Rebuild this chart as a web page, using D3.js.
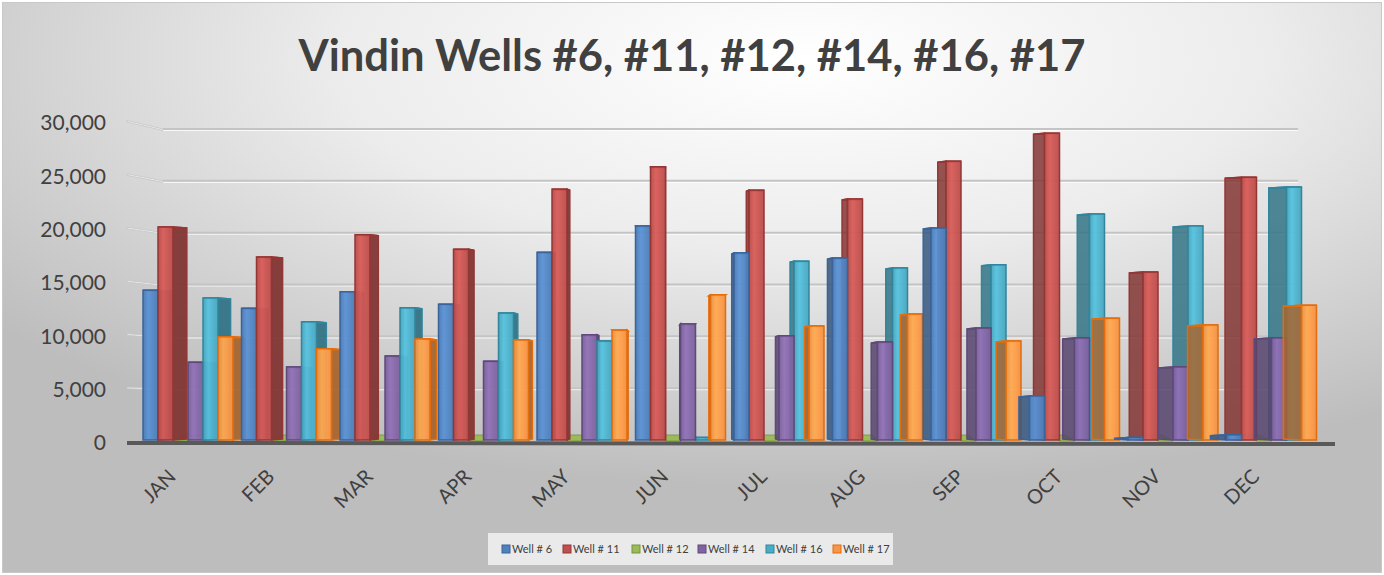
<!DOCTYPE html>
<html><head><meta charset="utf-8">
<script src="https://cdn.jsdelivr.net/npm/d3@7"></script>
<style>html,body{margin:0;padding:0;background:#fff;}svg{display:block;}</style>
</head><body>
<svg id="chart" width="1384" height="575"></svg>
<script>
const months = ["JAN","FEB","MAR","APR","MAY","JUN","JUL","AUG","SEP","OCT","NOV","DEC"];
const seriesNames = ["Well # 6","Well # 11","Well # 12","Well # 14","Well # 16","Well # 17"];
const well6  = [14450,12700,14300,13100,18100,20650,18050,17550,20450,4250,250,500];
const well11 = [20550,17650,19800,18400,24200,26350,24100,23250,26900,29600,16200,25350];
const well12 = [0,0,0,0,0,0,0,0,0,0,0,0];
const well14 = [7500,7050,8100,7600,10150,11200,10050,9450,10800,9850,7050,9850];
const well16 = [13700,11400,12750,12250,9550,250,17250,16600,16900,21800,20650,24400];
const well17 = [9950,8800,9750,9650,10600,14000,11000,12150,9550,11750,11100,13000];
const yTicks = [0,5000,10000,15000,20000,25000,30000];
const colors = ["#4f81bd","#c0504d","#9bbb59","#8064a2","#4bacc6","#f79646"];
const strokes = ["#3a639a","#943634","#76923c","#5f497a","#31859c","#e46c0a"];
const titleText = "Vindin Wells #6, #11, #12, #14, #16, #17";

const seriesData = [well6, well11, well12, well14, well16, well17];
const W = 1384, H = 575;
const svg = d3.select("#chart");
const defs = svg.append("defs");

// background
const rg = defs.append("radialGradient").attr("id","bg")
  .attr("cx","0.58").attr("cy","0.1").attr("r","0.75").attr("fx","0.58").attr("fy","0.1");
rg.append("stop").attr("offset","0").attr("stop-color","#ffffff");
rg.append("stop").attr("offset","0.45").attr("stop-color","#ececec");
rg.append("stop").attr("offset","1").attr("stop-color","#bdbdbd");
svg.append("rect").attr("x",0).attr("y",0).attr("width",W).attr("height",H).attr("fill","#ffffff");
svg.append("rect").attr("x",2.5).attr("y",2.5).attr("width",W-5).attr("height",H-5)
  .attr("fill","url(#bg)").attr("stroke","#c8c8c8").attr("stroke-width",1);

// front gradients per series
seriesData.forEach((_, i) => {
  const c = d3.color(colors[i]);
  const g = defs.append("linearGradient").attr("id","fg"+i).attr("x1","0").attr("x2","1").attr("y1","0").attr("y2","0");
  g.append("stop").attr("offset","0").attr("stop-color", c.darker(0.15));
  g.append("stop").attr("offset","0.35").attr("stop-color", c.brighter(0.35));
  g.append("stop").attr("offset","0.7").attr("stop-color", c.brighter(0.1));
  g.append("stop").attr("offset","1").attr("stop-color", c.darker(0.1));
});

// scales
const x0 = d3.scaleBand().domain(months).range([140, 1322]).padding(0);
const x1 = d3.scaleBand().domain(seriesNames).range([3, 93]).padding(0);
const yBack = d3.scaleLinear().domain([0,30000]).range([440,129]);
const yFront = d3.scaleLinear().domain([0,30000]).range([443,123]);
const fmt = d3.format(",");

// gridlines (back wall) and perspective connectors
const grid = svg.append("g");
yTicks.filter(v => v > 0).forEach(v => {
  const yb = yBack(v), yf = yFront(v);
  grid.append("line").attr("x1",163).attr("x2",1298).attr("y1",yb+1.5).attr("y2",yb+1.5)
    .attr("stroke","#ffffff").attr("stroke-width",1.2).attr("opacity",0.8);
  grid.append("line").attr("x1",163).attr("x2",1298).attr("y1",yb).attr("y2",yb)
    .attr("stroke","#c4c4c4").attr("stroke-width",2);
  grid.append("path").attr("d",`M127,${yf-2.5} L163,${yb} L163,${yb+1.5} L127,${yf-1}Z`)
    .attr("fill","#f4f4f4").attr("stroke","#c4c4c4").attr("stroke-width",0.8);
});

// y labels
svg.append("g").selectAll("text").data(yTicks).join("text")
  .attr("x",106).attr("y",d => yFront(d)).attr("dy","0.35em")
  .attr("text-anchor","end").attr("font-family","Lato, 'Open Sans', sans-serif")
  .attr("font-size",21).attr("fill","#404040").text(d => fmt(d));

// build bar list
const base = yBack(0);
const items = [];
// draw rank inside a cluster for the right half (sides face left)
const rightRank = [2, 1, 0, 3, 0, 4]; // W16 first, then W11/W12, W6, W14, W17
months.forEach((m, mi) => {
  seriesData.forEach((arr, si) => {
    const x = x0(m) + x1(seriesNames[si]);
    const w = x1.bandwidth();
    const cx = x + w/2;
    items.push({v: arr[mi], si, mi, x, w, cx, sw: (660 - cx) * 0.028});
  });
});
const leftItems = items.filter(d => d.sw >= 0).sort((a,b) => a.cx - b.cx);
const rightItems = items.filter(d => d.sw < 0).sort((a,b) => (a.mi - b.mi) || (rightRank[a.si] - rightRank[b.si]));
const ordered = leftItems.concat(rightItems);

const floor = svg.append("g");
const bars = svg.append("g");
ordered.forEach(d => {
  const {v, si, x, w, sw} = d;
  const c = d3.color(colors[si]);
  const st = strokes[si];
  if (v <= 0) {
    const dx = sw * 0.8;
    floor.append("path").attr("d",`M${x},${base+1} L${x+w},${base+1} L${x+w+dx},${base-5} L${x+dx},${base-5}Z`)
      .attr("fill",colors[si]).attr("stroke",st).attr("stroke-width",0.8);
    return;
  }
  const top = yBack(v);
  const g = bars.append("g");
  let sidePath;
  if (sw >= 0) {
    sidePath = `M${x+w},${top} L${x+w+sw},${top+1} L${x+w+sw},${base-1} L${x+w},${base}Z`;
  } else {
    sidePath = `M${x},${top} L${x+sw},${top+1} L${x+sw},${base-1} L${x},${base}Z`;
  }
  g.append("path").attr("d",sidePath).attr("fill",c.darker(1.1))
    .attr("fill-opacity", sw >= 0 ? 0.95 : 0.85)
    .attr("stroke",st).attr("stroke-width",1.5);
  const capPath = `M${x},${top} L${x+w},${top} L${x+w+sw},${top+1} L${x+sw},${top+1}Z`;
  g.append("path").attr("d",capPath).attr("fill",c.brighter(0.3)).attr("stroke",st).attr("stroke-width",1.5);
  g.append("rect").attr("x",x).attr("y",top).attr("width",w).attr("height",base-top)
    .attr("fill","url(#fg"+si+")").attr("fill-opacity",0.95).attr("stroke",st).attr("stroke-width",1.5);
});

// base line
svg.append("line").attr("x1",127).attr("x2",1335).attr("y1",443).attr("y2",444)
  .attr("stroke","#595959").attr("stroke-width",4);

// x labels
svg.append("g").selectAll("text").data(months).join("text")
  .attr("transform",d => `translate(${x0(d)+x0.bandwidth()/2 - 22},${468}) rotate(-45)`)
  .attr("text-anchor","end").attr("dy","0.7em")
  .attr("font-family","Lato, 'Open Sans', sans-serif").attr("font-size",20).attr("fill","#404040")
  .text(d => d);

// title
const title = svg.append("text").attr("x",692).attr("y",71).attr("text-anchor","middle")
  .attr("font-family","Lato, 'Open Sans', sans-serif").attr("font-weight","bold")
  .attr("font-size",40).attr("fill","#404040").text(titleText);
const tw = title.node().getComputedTextLength();
title.attr("font-size", 40 * 787 / tw);

// legend
const lg = svg.append("g");
lg.append("rect").attr("x",488).attr("y",533).attr("width",405).attr("height",32).attr("fill","#eaeaea");
const legX = [502,563,632,698,766,833];
seriesNames.forEach((n, i) => {
  lg.append("rect").attr("x",legX[i]).attr("y",545).attr("width",8).attr("height",8)
    .attr("fill",colors[i]).attr("stroke",strokes[i]).attr("stroke-width",1);
  lg.append("text").attr("x",legX[i]+10).attr("y",549).attr("dy","0.35em")
    .attr("font-family","Lato, 'Open Sans', sans-serif").attr("font-size",11).attr("fill","#404040").text(n);
});
</script>
</body></html>
